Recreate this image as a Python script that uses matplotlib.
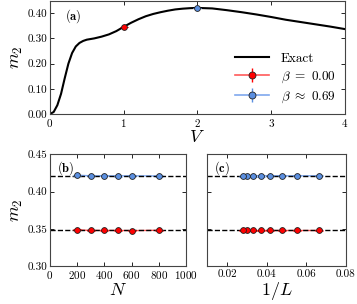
import numpy as np
import matplotlib
matplotlib.use("Agg")
import matplotlib.pyplot as plt

plt.rcParams['font.family'] = 'serif'
plt.rcParams['font.serif'] = ['cmr10']
plt.rcParams['mathtext.fontset'] = 'cm'
plt.rcParams['axes.formatter.use_mathtext'] = True
plt.rcParams['font.size'] = 8

# exact curve m2(V)
V_exact = [0, 0.05, 0.1, 0.15, 0.2, 0.25, 0.3, 0.35, 0.4, 0.45, 0.5, 0.6, 0.7, 0.8, 0.9,
           1.0, 1.1, 1.2, 1.3, 1.4, 1.5, 1.6, 1.7, 1.8, 1.9, 2.0, 2.2, 2.4, 2.6, 2.8,
           3.0, 3.2, 3.4, 3.6, 3.8, 4.0]
m2_exact = [0.000, 0.008, 0.035, 0.080, 0.142, 0.200, 0.242, 0.268, 0.282, 0.290, 0.295,
            0.300, 0.307, 0.316, 0.329, 0.346, 0.362, 0.376, 0.388, 0.397, 0.404, 0.410,
            0.415, 0.418, 0.420, 0.421, 0.419, 0.412, 0.404, 0.395, 0.385, 0.374, 0.365,
            0.356, 0.347, 0.337]

# simulation points in (a)
V_red, m2_red = [1.0], [0.346]
V_blue, m2_blue = [2.0], [0.421]

# exact reference values (dashed lines)
ref_red = 0.348
ref_blue = 0.421

# panel (b): vs N
N = [200, 300, 400, 500, 600, 800]
mN_red = [0.3487, 0.348, 0.348, 0.348, 0.3477, 0.3482]
mN_blue = [0.4218, 0.421, 0.421, 0.4208, 0.421, 0.4208]

# panel (c): vs 1/L
L = [15, 18, 21, 24, 27, 30, 33, 36]
invL = [1.0 / l for l in L]
mL_red = [0.348, 0.348, 0.348, 0.348, 0.348, 0.348, 0.348, 0.348]
mL_blue = [0.421, 0.421, 0.421, 0.421, 0.4208, 0.4208, 0.4208, 0.4205]

err = 0.0008

red_face = 'red'
red_line = '#ff5a5a'
blue_face = '#5b8fe0'
blue_line = '#7fa8ee'

fig = plt.figure(figsize=(3.57, 3.04), dpi=100)
axa = fig.add_axes([0.140, 0.625, 0.826, 0.373])
axb = fig.add_axes([0.140, 0.124, 0.381, 0.369])
axc = fig.add_axes([0.581, 0.124, 0.387, 0.369])


def pts(ax, x, y, face, line, label=None):
    # connecting line goes under the dashed reference line, markers on top
    ax.plot(x, y, '-', color=line, lw=1.0, zorder=1.5)
    ax.errorbar(x, y, yerr=err, fmt='o', color=line, ecolor=face, elinewidth=1.0,
                capsize=3, markersize=4.2, markerfacecolor=face, markeredgecolor='#222222',
                markeredgewidth=0.6, lw=1.0, label=label, zorder=3)


# (a)
axa.plot(V_exact, m2_exact, 'k-', lw=1.5, label='Exact')
pts(axa, V_red, m2_red, red_face, red_line)
pts(axa, V_blue, m2_blue, blue_face, blue_line)
# legend handles with the line through the marker
h_red = axa.errorbar([], [], yerr=[], fmt='o-', color=red_line, ecolor=red_face, elinewidth=1.0,
                     capsize=3, markersize=5, markerfacecolor=red_face,
                     markeredgecolor='#222222', markeredgewidth=0.6, lw=1.2)
h_blue = axa.errorbar([], [], yerr=[], fmt='o-', color=blue_line, ecolor=blue_face, elinewidth=1.0,
                      capsize=3, markersize=5, markerfacecolor=blue_face,
                      markeredgecolor='#222222', markeredgewidth=0.6, lw=1.2)
h_exact = axa.lines[0]
axa.set_xlim(0, 4)
axa.set_ylim(0, 0.45)
axa.set_xticks([0, 1, 2, 3, 4])
axa.set_yticks([0, 0.1, 0.2, 0.3, 0.4])
axa.set_yticklabels(['0.00', '0.10', '0.20', '0.30', '0.40'])
axa.set_xlabel(r'$V$', fontsize=13, labelpad=0)
axa.set_ylabel(r'$m_2$', fontsize=13, labelpad=2)
axa.text(0.05, 0.94, r'$\mathbf{(a)}$', transform=axa.transAxes, va='top', fontsize=9)
axa.legend([h_exact, h_red, h_blue], ['Exact', r'$\beta\ =\ 0.00$', r'$\beta\ \approx\ 0.69$'],
           loc='lower right', frameon=False, fontsize=9.5, handlelength=2.6,
           borderaxespad=0.3, labelspacing=0.35, handletextpad=0.9)

# (b)
axb.axhline(ref_blue, color='k', ls='--', lw=1.0, zorder=2)
axb.axhline(ref_red, color='k', ls='--', lw=1.0, zorder=2)
pts(axb, N, mN_blue, blue_face, blue_line)
pts(axb, N, mN_red, red_face, red_line)
axb.set_xlim(0, 1000)
axb.set_ylim(0.30, 0.45)
axb.set_xticks([0, 200, 400, 600, 800, 1000])
axb.set_yticks([0.30, 0.35, 0.40, 0.45])
axb.set_yticklabels(['0.30', '0.35', '0.40', '0.45'])
axb.set_xlabel(r'$N$', fontsize=13, labelpad=1)
axb.set_ylabel(r'$m_2$', fontsize=13, labelpad=2)
axb.text(0.05, 0.95, r'$\mathbf{(b)}$', transform=axb.transAxes, va='top', fontsize=9)

# (c)
axc.axhline(ref_blue, color='k', ls='--', lw=1.0, zorder=2)
axc.axhline(ref_red, color='k', ls='--', lw=1.0, zorder=2)
pts(axc, invL, mL_blue, blue_face, blue_line)
pts(axc, invL, mL_red, red_face, red_line)
axc.set_xlim(0.01, 0.08)
axc.set_ylim(0.30, 0.45)
axc.set_xticks([0.02, 0.04, 0.06, 0.08])
axc.set_xticklabels(['0.02', '0.04', '0.06', '0.08'])
axc.set_yticks([0.30, 0.35, 0.40, 0.45])
axc.set_yticklabels([])
axc.set_xlabel(r'$1/L$', fontsize=13, labelpad=1)
axc.text(0.05, 0.95, r'$\mathbf{(c)}$', transform=axc.transAxes, va='top', fontsize=9)

for ax in (axa, axb, axc):
    ax.tick_params(direction='in', top=True, right=True, length=3, width=0.6, labelsize=8, pad=2)
    for s in ax.spines.values():
        s.set_color('#444444')
        s.set_linewidth(0.8)

fig.savefig('out.png', dpi=100)
